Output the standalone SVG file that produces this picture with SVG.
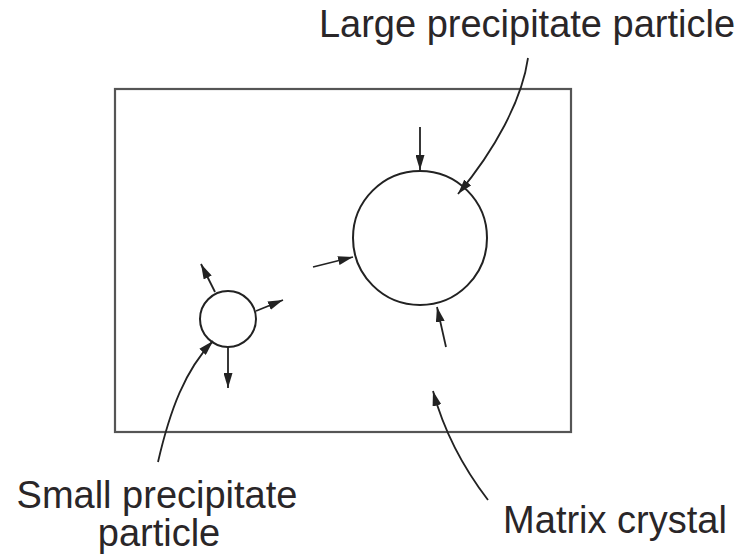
<svg xmlns="http://www.w3.org/2000/svg" width="742" height="555" viewBox="0 0 742 555">
<defs>
<marker id="ah" viewBox="0 0 15 9" refX="15" refY="4.5" markerWidth="15" markerHeight="9" markerUnits="userSpaceOnUse" orient="auto">
<path d="M0,0 L15,4.5 L0,9 z" fill="#222"/>
</marker>
</defs>
<style>
.lbl{font-family:"Liberation Sans",Arial,sans-serif;font-size:38px;fill:#2a2628}
.arr{fill:none;stroke:#222;stroke-width:1.8;marker-end:url(#ah)}
.circ{fill:#fff;stroke:#222;stroke-width:2}
</style>
<rect width="742" height="555" fill="#fff"/>
<g id="matrix-crystal">
<rect x="115" y="89" width="456" height="343" fill="none" stroke="#555" stroke-width="2.2"/>
</g>
<g id="large-particle">
<circle class="circ" cx="420" cy="238" r="67"/>
</g>
<g id="small-particle">
<circle class="circ" cx="228" cy="319" r="28"/>
</g>
<g id="connectors">
<path class="arr" d="M420,127 L420,170"/>
<path class="arr" d="M313,267 L353,257"/>
<path class="arr" d="M446,347 L437,307"/>
<path class="arr" d="M215,292 L201,264"/>
<path class="arr" d="M256,311 L283,300"/>
<path class="arr" d="M228,347 L228,388"/>
<path class="arr" d="M528,58 C522,100 495,150 458,194"/>
<path class="arr" d="M158,462 C170,410 185,370 213,341"/>
<path class="arr" d="M488,500 C465,470 445,435 433,391"/>
</g>
<g id="labels">
<text class="lbl" x="527" y="37" text-anchor="middle">Large precipitate particle</text>
<text class="lbl" x="157" y="508" text-anchor="middle">Small precipitate</text>
<text class="lbl" x="159" y="546" text-anchor="middle">particle</text>
<text class="lbl" x="615" y="533" text-anchor="middle">Matrix crystal</text>
</g>
</svg>
